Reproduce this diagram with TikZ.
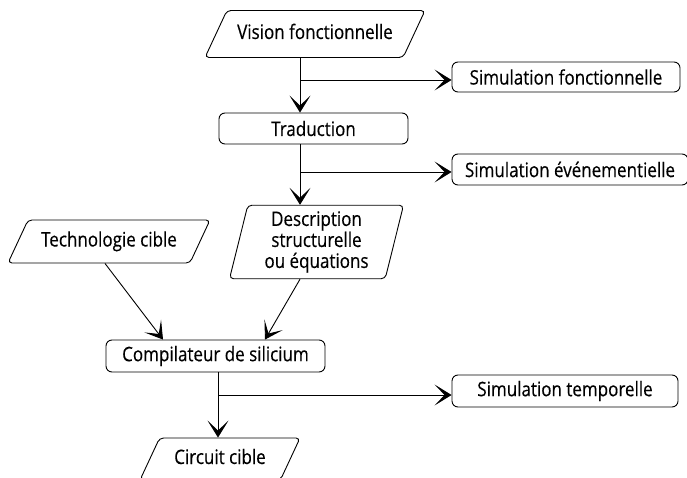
\documentclass[tikz,border=0pt]{standalone}
\usepackage{fontspec}
\setmainfont{Open Sans}[FakeStretch=0.85,FakeBold=0.3]
\usepackage{tikz}
\usetikzlibrary{arrows.meta}
\usetikzlibrary{shapes.geometric}
\usetikzlibrary{calc}

\begin{document}
\begin{tikzpicture}[x=1pt,y=-1pt,
	boite/.style={draw,rounded corners=6pt,line width=0.9pt,inner sep=0pt,font=\fontsize{20}{22}\selectfont},
	para/.style={draw,trapezium,trapezium left angle=65,trapezium right angle=115,trapezium stretches body=true,rounded corners=4pt,line width=0.9pt,inner xsep=0pt,align=center,font=\fontsize{20}{21}\selectfont},
	ligne/.style={text height=15pt,text depth=5pt},
	fleche/.style={-{Stealth[length=17pt,width=21pt,inset=10pt]},line width=0.9pt}]
	\useasboundingbox (0,0) rectangle (687,478);
	\node[para,ligne,minimum width=220pt,inner ysep=13.5pt] (vision) at (315,34) {Vision fonctionnelle};
	\node[boite,minimum width=189pt,minimum height=31pt] (trad) at (313.5,128.5) {Traduction};
	\node[para,trapezium left angle=76,trapezium right angle=104,minimum width=174pt,inner ysep=6pt] (descr) at (316.5,242) {Description\\structurelle\\ou équations};
	\node[para,ligne,minimum width=202pt,inner ysep=11.5pt] (techno) at (109,241.5) {Technologie cible};
	\node[boite,minimum width=219pt,minimum height=32pt] (compil) at (215.5,356) {Compilateur de silicium};
	\node[para,ligne,minimum width=160pt,inner ysep=11pt] (circuit) at (220,459) {Circuit cible};
	\node[boite,minimum width=228pt,minimum height=30pt] (simfonc) at (566,77) {Simulation fonctionnelle};
	\node[boite,minimum width=236pt,minimum height=31pt] (simevt) at (570,169.5) {Simulation événementielle};
	\node[boite,minimum width=226pt,minimum height=32pt] (simtemp) at (565,391) {Simulation temporelle};
	\coordinate (b1) at (300,80);
	\coordinate (b2) at (300,172);
	\coordinate (b3) at (218,395);
	\draw[fleche] (vision.south -| b1) -- (trad.north -| b1);
	\draw[fleche] (b1) -- (b1 -| simfonc.west);
	\draw[fleche] (trad.south -| b2) -- (descr.north -| b2);
	\draw[fleche] (b2) -- (b2 -| simevt.west);
	\draw[fleche] (descr.south -| b2) -- (compil.north -| 265,0);
	\draw[fleche] (techno.south -| 105,0) -- (compil.north -| 163,0);
	\draw[fleche] (compil.south -| b3) -- (circuit.north -| b3);
	\draw[fleche] (b3) -- (b3 -| simtemp.west);
\end{tikzpicture}
\end{document}
